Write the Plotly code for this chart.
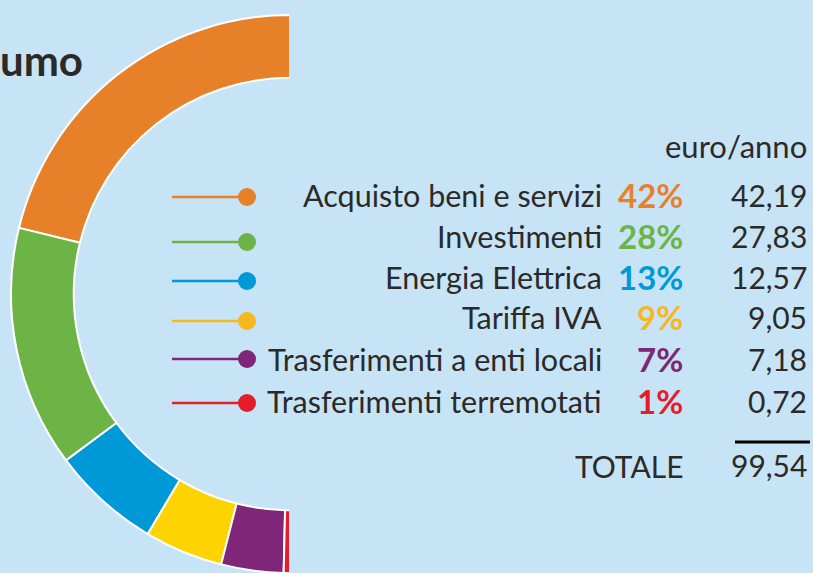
import plotly.graph_objects as go

W, H = 813, 573

categories = ["Acquisto beni e servizi", "Investimenti", "Energia Elettrica",
              "Tariffa IVA", "Trasferimenti a enti locali", "Trasferimenti terremotati"]
values = [42.19, 27.83, 12.57, 9.05, 7.18, 0.72]
percent_labels = ["42%", "28%", "13%", "9%", "7%", "1%"]
value_labels = ["42,19", "27,83", "12,57", "9,05", "7,18", "0,72"]
total_value = 99.54
total_label = "99,54"
unit_label = "euro/anno"

slice_colors = ["#E6812A", "#6DB446", "#0099D8", "#FDD300", "#7E2677", "#E31E2A"]
legend_colors = ["#E6812A", "#6DB446", "#0099D8", "#F6B81C", "#7E2677", "#E31E2A"]
BG = "#C7E4F6"
TXT = "#2B2A29"
FONT = "Lato"


def px(x):
    return x / W


def py(y):
    return 1 - y / H


fig = go.Figure()

# half donut: real slices + a background-coloured slice worth the total
pie_vals = values + [total_value]
pie_cols = slice_colors + [BG]
line_cols = ["white"] * len(values) + [BG]
# counterclockwise pies in plotly put the first slice to the right of 12 o'clock;
# rotate back by the first slice's angle so it starts at 12 o'clock going left
first_angle = values[0] / sum(pie_vals) * 360
fig.add_trace(go.Pie(
    values=pie_vals,
    labels=categories + ["hidden"],
    sort=False,
    direction="counterclockwise",
    rotation=-first_angle,
    hole=0.775,
    textinfo="none",
    hoverinfo="skip",
    marker=dict(colors=pie_cols, line=dict(color=line_cols, width=2)),
    domain=dict(x=[px(11), px(569)], y=[py(573), py(15)]),
    showlegend=False,
))

dot_y = [197, 242, 281, 321, 359, 403]
text_y = [195, 236, 277, 317, 359, 401]
annotations = []
shapes = []
for i, cat in enumerate(categories):
    y = dot_y[i]
    ty = text_y[i]
    shapes.append(dict(type="line", xref="paper", yref="paper",
                       x0=px(172), x1=px(246), y0=py(y), y1=py(y),
                       line=dict(color=legend_colors[i], width=2.5)))
    shapes.append(dict(type="circle", xref="paper", yref="paper",
                       x0=px(238), x1=px(256), y0=py(y - 9), y1=py(y + 9),
                       fillcolor=legend_colors[i], line=dict(width=0)))
    annotations.append(dict(text=cat, x=px(604), y=py(ty), xref="paper", yref="paper",
                            xanchor="right", yanchor="middle", showarrow=False,
                            font=dict(family=FONT, size=30.5, color=TXT)))
    annotations.append(dict(text="<b>" + percent_labels[i] + "</b>", x=px(685), y=py(ty),
                            xref="paper", yref="paper", xanchor="right", yanchor="middle",
                            showarrow=False,
                            font=dict(family=FONT, size=33, color=legend_colors[i])))
    annotations.append(dict(text=value_labels[i], x=px(809), y=py(ty), xref="paper", yref="paper",
                            xanchor="right", yanchor="middle", showarrow=False,
                            font=dict(family=FONT, size=30, color=TXT)))

annotations.append(dict(text=unit_label, x=px(809), y=py(146), xref="paper", yref="paper",
                        xanchor="right", yanchor="middle", showarrow=False,
                        font=dict(family=FONT, size=31, color=TXT)))
annotations.append(dict(text="TOTALE", x=px(685), y=py(466), xref="paper", yref="paper",
                        xanchor="right", yanchor="middle", showarrow=False,
                        font=dict(family=FONT, size=30, color=TXT)))
annotations.append(dict(text=total_label, x=px(809), y=py(465), xref="paper", yref="paper",
                        xanchor="right", yanchor="middle", showarrow=False,
                        font=dict(family=FONT, size=30, color=TXT)))
annotations.append(dict(text="<b>umo</b>", x=px(-2), y=py(60), xref="paper", yref="paper",
                        xanchor="left", yanchor="middle", showarrow=False,
                        font=dict(family=FONT, size=42, color=TXT)))
shapes.append(dict(type="line", xref="paper", yref="paper",
                   x0=px(735), x1=px(810), y0=py(442), y1=py(442),
                   line=dict(color="black", width=3)))

fig.update_layout(
    width=W, height=H,
    margin=dict(l=0, r=0, t=0, b=0),
    paper_bgcolor=BG, plot_bgcolor=BG,
    annotations=annotations, shapes=shapes,
)

fig.write_html("out.html", config={"displayModeBar": False},
               post_script="document.body.style.margin='0';")
